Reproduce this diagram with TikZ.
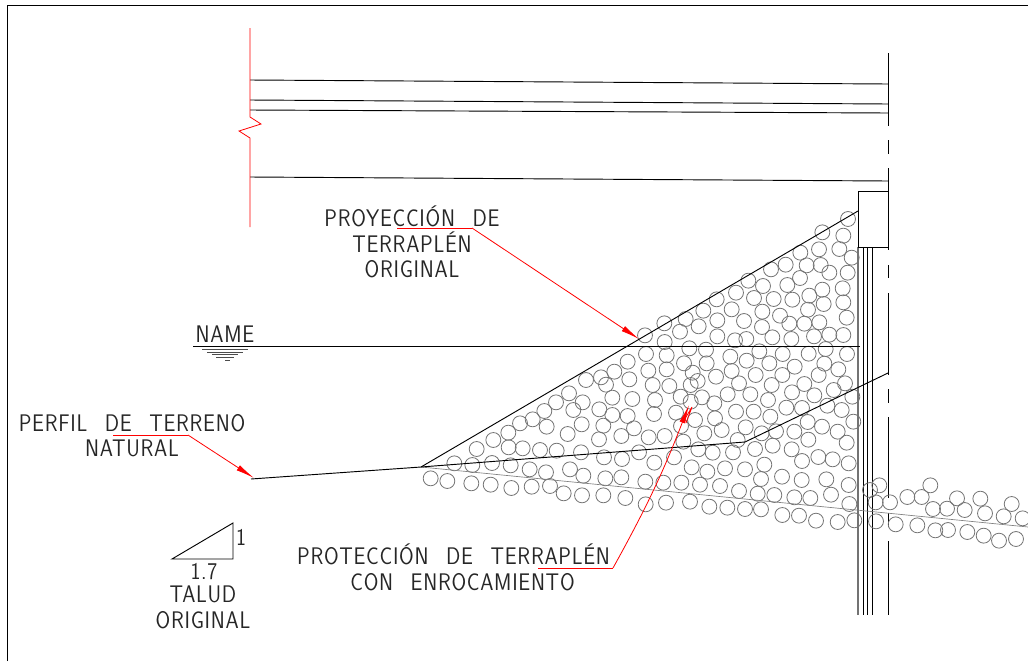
\documentclass[tikz,border=0pt]{standalone}
\usepackage{fontspec}
\usetikzlibrary{arrows.meta}
\newfontfamily\cadfont[LetterSpace=3,WordSpace=2.4,FakeStretch=0.88]{Latin Modern Sans}
\tikzset{
    rock/.style={draw=black!55,line width=0.6pt},
    label/.style={font=\cadfont\fontsize{18}{19}\selectfont,text=black!85,align=center,inner sep=0pt},
    structure/.style={black,line width=0.7pt},
    leader/.style={red,line width=0.6pt},
    pointer/.style={leader,-{Latex[length=14pt,width=4.5pt]}}
}

\begin{document}
\begin{tikzpicture}[x=0.75pt,y=-0.75pt]
    \useasboundingbox (0,0) rectangle (1028,661);
    \draw[structure] (7,661) -- (7,5) -- (1028,5);

    % deck
    \draw[structure] (250,80) -- (888,84);
    \draw[structure] (250,100) -- (888,104);
    \draw[structure] (250,110) -- (888,113);
    \draw[structure] (250,177) -- (888,181);
    \draw[leader] (250,28) -- (250,117) -- (261,124) -- (239,131) -- (250,138) -- (250,227);

    % axis
    \foreach \ya/\yb in {53/126,140/154,168/250,265/278,293/375,389/403,417/498,513/527,541/615}
        \draw[structure] (888,\ya) -- (888,\yb);

    % pile and cap
    \draw[black!55,line width=2pt] (858,247) -- (858,615);
    \foreach \xa in {863,867,872}
        \draw[structure,line width=0.5pt] (\xa,247) -- (\xa,615);
    \draw[structure] (888,191) -- (858,191) -- (858,247) -- (888,247);

    % rocks
    \begin{scope}[shift={(620,180)},x=0.25pt,y=-0.25pt]
    \foreach \cx/\cy in {684/117,607/157,670/167,541/218,597/208,658/207,695/233,453/268,497/254,560/256,602/255,628/278,683/278,540/294,385/302,429/318,502/315,607/329,668/325,290/358,348/338,402/354,461/357,517/359,568/347,611/372,670/367,133/430,197/417,250/392,335/388,427/395,564/389,680/413,75/466,180/455,236/439,292/421,372/423,480/407,508/431,553/431,598/427,426/441,134/486,292/469,345/481,379/477,457/472,514/477,582/469,628/464,670/465,78/522,208/505,258/509,418/514,488/522,566/521,617/507,681/522,140/526,331/530,380/542,448/550,524/560,613/551,655/568,335/573,407/585,487/585,596/585}
        \draw[rock] (\cx,\cy) circle [radius=5.6pt];
    \end{scope}
    \begin{scope}[shift={(400,360)},x=0.25pt,y=-0.25pt]
    \foreach \cx/\cy in {558/60,603/52,643/35,618/74,688/58,745/32,800/28,852/10,683/5,878/38,920/10,758/75,808/78,893/63,872/75,948/50,507/100,637/113,697/117,765/120,842/110,906/112,872/125,943/130,468/127,548/127,520/150,598/148,637/165,683/168,762/162,828/158,885/180,945/175,433/153,398/178,360/190,440/200,545/193,610/197,843/198,702/205,325/218,503/222,664/228,746/232,794/228,913/220,280/240,597/238,850/245,230/267,326/262,368/265,420/270,470/272,543/277,717/277,895/268,938/278,163/310,217/315,276/309,332/316,612/292,666/297,763/308,822/292,875/322,922/335,389/328,438/337,510/328,92/355,142/363,550/347,616/355,664/352,736/365,790/368,844/368,900/374,214/370,272/374,334/384,395/380,450/378,491/400,546/406,610/406,676/414,737/433,798/428,870/425,928/440}
        \draw[rock] (\cx,\cy) circle [radius=5.6pt];
    \end{scope}
    \begin{scope}[shift={(720,380)},x=0.25pt,y=-0.25pt]
    \foreach \cx/\cy in {57/10,155/15,253/12,375/10,23/43,91/43,216/37,283/46,341/30,397/50,144/60,48/95,101/95,199/83,246/84,322/77,365/90,151/110,5/150,77/142,263/126,400/125,125/160,168/154,223/155,306/140,353/155,53/180,265/179,380/188,105/207,158/197,215/208,39/217,246/243,295/231,338/238,386/250,15/265,75/268,133/254,123/297,186/290,245/300,319/298,386/315,0/318,57/333,113/341,163/345,223/352,271/354,333/344,388/372,22/383,75/387,123/388,187/405,237/407,288/422,353/426,403/421,450/330,478/316,467/367,510/367,468/424,527/433,562/351,605/351,631/316,592/436,639/387,681/386,734/390,711/355,781/356,795/400,851/409,875/372,908/415,646/451,684/450,742/456,791/467,837/482,888/477}
        \draw[rock] (\cx,\cy) circle [radius=5.6pt];
    \end{scope}

    % terrain
    \draw[black!50,line width=0.5pt] (421,467) -- (1028,527);
    \draw[structure] (251,479) -- (421,467) -- (745,442) -- (888,373);
    \draw[structure] (421,467) -- (858,211);

    % water level
    \draw[structure] (193,346.5) -- (860,346.5);
    \draw[black!70,line width=0.7pt] (202,349.5) -- (248,349.5);
    \draw[black!70,line width=0.7pt] (207,352) -- (243,352);
    \draw[black!70,line width=0.7pt] (212,354.5) -- (238,354.5);
    \draw[black!70,line width=0.7pt] (216,357) -- (234,357);
    \draw[black!70,line width=0.7pt] (225,360) -- (230,360);
    \node[label] (name) at (225,334.5) {NAME};

    % labels
    \node[label] (proyeccion) at (412,242) {PROYECCIÓN DE\\TERRAPLÉN\\ORIGINAL};
    \node[label] (perfil) at (132,435.5) {PERFIL DE TERRENO\\NATURAL};
    \node[label] (proteccion) at (453.5,567.5) {PROTECCIÓN DE TERRAPLÉN\\\hspace*{13.5pt}CON ENROCAMIENTO};
    \node[label] (slopev) at (241,537) {1};
    \node[label] (slopeh) at (204,572) {1.7};
    \node[label] (talud) at (203,607.5) {TALUD\\ORIGINAL};
    \draw[structure] (172,559) -- (233,559) -- (233,523) -- cycle;

    % leaders
    \coordinate (a1) at (397,228);
    \coordinate (a2) at (472,228);
    \coordinate (a3) at (639,339);
    \coordinate (b1) at (113,435);
    \coordinate (b2) at (188,435);
    \coordinate (b3) at (254,478);
    \coordinate (c1) at (538,568);
    \coordinate (c2) at (613,568);
    \coordinate (c3) at (689,405);
    \draw[leader] (a1) -- (a2);
    \draw[pointer] (a2) -- (a3);
    \draw[leader] (b1) -- (b2);
    \draw[pointer] (b2) -- (b3);
    \draw[leader] (c1) -- (c2);
    \draw[pointer] (c2) to[bend right=4] (c3);
    \draw[leader] (683,422) -- (692,407) -- (686,423);
\end{tikzpicture}
\end{document}
